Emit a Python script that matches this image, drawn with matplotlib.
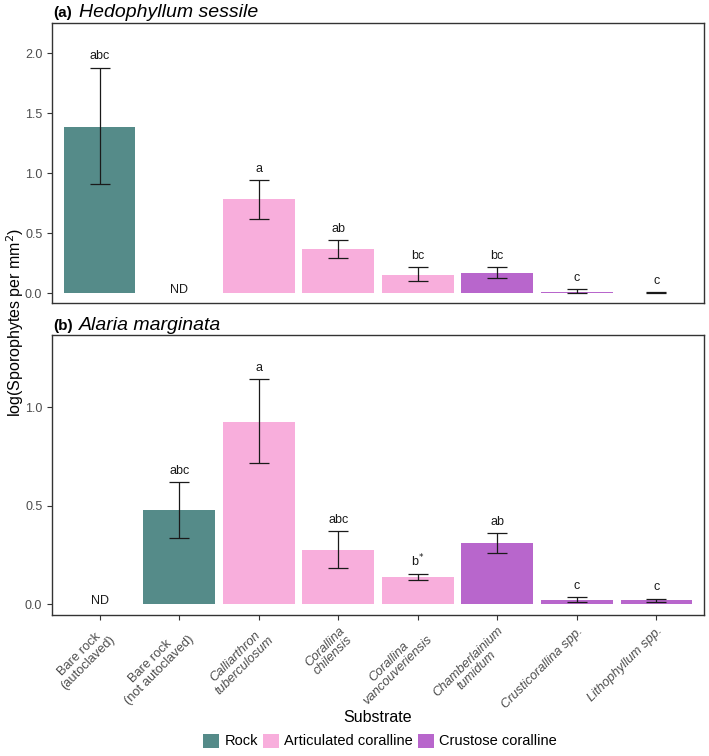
import numpy as np
import matplotlib.pyplot as plt
from matplotlib.patches import Patch

plt.rcParams['font.family'] = ['Liberation Sans', 'DejaVu Sans']

# Substrate categories (x axis)
substrates = ["Bare rock\n(autoclaved)", "Bare rock\n(not autoclaved)",
              "Calliarthron\ntuberculosum", "Corallina\nchilensis",
              "Corallina\nvancouveriensis", "Chamberlainium\ntumidum",
              "Crusticorallina spp.", "Lithophyllum spp."]
italic_label = [False, False, True, True, True, True, True, True]
groups = ["Rock", "Rock", "Articulated coralline", "Articulated coralline",
          "Articulated coralline", "Crustose coralline", "Crustose coralline",
          "Crustose coralline"]

group_names = ["Rock", "Articulated coralline", "Crustose coralline"]
group_colors = {"Rock": "#558b89", "Articulated coralline": "#f8aedc",
                "Crustose coralline": "#b866cc"}

# Panel (a) Hedophyllum sessile (None = not determined)
hed_mean = [1.386, None, 0.78, 0.364, 0.153, 0.17, 0.011, 0.002]
hed_low = [0.908, None, 0.62, 0.29, 0.10, 0.125, 0.0, 0.0]
hed_high = [1.878, None, 0.94, 0.44, 0.214, 0.217, 0.033, 0.006]
hed_letters = ["abc", "ND", "a", "ab", "bc", "bc", "c", "c"]

# Panel (b) Alaria marginata
ala_mean = [None, 0.477, 0.927, 0.276, 0.137, 0.31, 0.02, 0.02]
ala_low = [None, 0.335, 0.716, 0.183, 0.125, 0.262, 0.01, 0.013]
ala_high = [None, 0.619, 1.142, 0.37, 0.152, 0.36, 0.035, 0.028]
ala_letters = ["ND", "abc", "a", "abc", "b$^{*}$", "ab", "c", "c"]


def draw_panel(ax, means, lows, highs, letters, ylim, yticks, offset):
    x = np.arange(1, len(substrates) + 1)
    for i, m in enumerate(means):
        if m is None:
            ax.text(x[i], offset * 0.6, letters[i], ha='center', va='center',
                    fontsize=9, color='#1a1a1a')
            continue
        ax.bar(x[i], m, width=0.9, color=group_colors[groups[i]], zorder=2)
        ax.errorbar(x[i], m, yerr=[[m - lows[i]], [highs[i] - m]],
                    fmt='none', ecolor='#1a1a1a', elinewidth=0.9,
                    capsize=7, capthick=0.9, zorder=3)
        ax.text(x[i], highs[i] + offset, letters[i], ha='center',
                va='bottom', fontsize=9, color='#1a1a1a')
    ax.set_xlim(0.4, 8.6)
    ax.set_ylim(*ylim)
    ax.set_yticks(yticks)
    ax.set_yticklabels([f"{t:.1f}" for t in yticks])
    ax.set_xticks(x)
    for s in ax.spines.values():
        s.set_color('#333333')
        s.set_linewidth(1.0)
    ax.tick_params(axis='both', colors='#333333', labelcolor='#4d4d4d',
                   labelsize=9, length=3.5, width=0.8)


fig = plt.figure(figsize=(7.09, 7.56), dpi=100)
ax1 = fig.add_axes([52 / 709, 453 / 756, 652 / 709, 280 / 756])
ax2 = fig.add_axes([52 / 709, 141 / 756, 652 / 709, 280 / 756])

draw_panel(ax1, hed_mean, hed_low, hed_high, hed_letters,
           (-0.083, 2.25), [0.0, 0.5, 1.0, 1.5, 2.0], 0.045)
draw_panel(ax2, ala_mean, ala_low, ala_high, ala_letters,
           (-0.054, 1.367), [0.0, 0.5, 1.0], 0.028)

ax1.set_xticklabels([])
ax1.tick_params(axis='x', length=0)
ax2.set_xticklabels(substrates, rotation=45, ha='right', va='top',
                    rotation_mode='anchor', multialignment='center',
                    fontsize=9.3, linespacing=1.05)
for lab, it in zip(ax2.get_xticklabels(), italic_label):
    if it:
        lab.set_style('italic')

# panel titles
fig.text(53 / 709, 1 - 17 / 756, "(a)", fontsize=11, fontweight='bold',
         ha='left', va='baseline')
fig.text(79 / 709, 1 - 17 / 756, "Hedophyllum sessile", fontsize=14,
         style='italic', ha='left', va='baseline')
fig.text(53 / 709, 1 - 330 / 756, "(b)", fontsize=11, fontweight='bold',
         ha='left', va='baseline')
fig.text(79 / 709, 1 - 330 / 756, "Alaria marginata", fontsize=14,
         style='italic', ha='left', va='baseline')

fig.text(15 / 709, 1 - 322 / 756, "log(Sporophytes per mm$^{2}$)",
         rotation=90, ha='center', va='center', fontsize=11.5)
fig.text(378 / 709, 1 - 717 / 756, "Substrate", ha='center', va='center',
         fontsize=11.5)

handles = [Patch(facecolor=group_colors[g], label=g) for g in group_names]
fig.legend(handles=handles, loc='center', bbox_to_anchor=(380 / 709, 1 - 741 / 756),
           ncol=3, frameon=False, fontsize=10.5, handlelength=1.1,
           handleheight=1.1, handletextpad=0.35, columnspacing=0.35)

fig.savefig("out.png", dpi=100)
